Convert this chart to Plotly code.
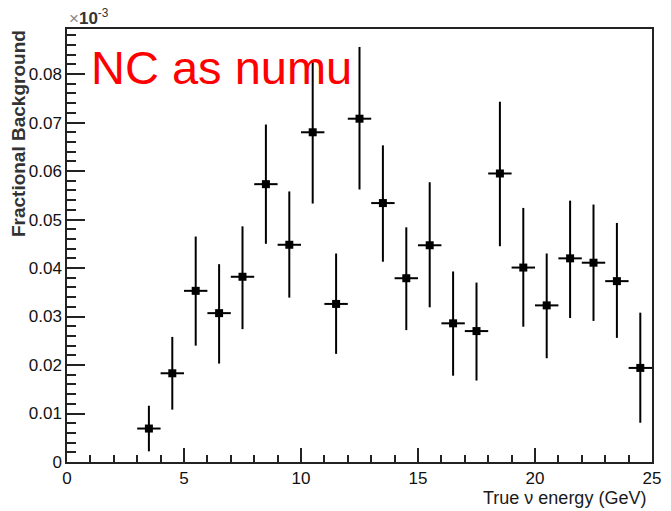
import plotly.graph_objects as go

# Bin centres of true neutrino energy (GeV)
energy = [3.5, 4.5, 5.5, 6.5, 7.5, 8.5, 9.5, 10.5, 11.5, 12.5, 13.5,
          14.5, 15.5, 16.5, 17.5, 18.5, 19.5, 20.5, 21.5, 22.5, 23.5, 24.5]

# Fractional NC background and its upper/lower uncertainties
frac_bkg = [0.0069, 0.0183, 0.0353, 0.0307, 0.0382, 0.0573, 0.0448, 0.0680,
            0.0326, 0.0708, 0.0534, 0.0379, 0.0447, 0.0286, 0.0270, 0.0595,
            0.0401, 0.0323, 0.0420, 0.0411, 0.0373, 0.0194]
err_up = [0.0047, 0.0075, 0.0112, 0.0101, 0.0104, 0.0123, 0.0110, 0.0147,
          0.0104, 0.0148, 0.0119, 0.0105, 0.0130, 0.0107, 0.0100, 0.0148,
          0.0123, 0.0107, 0.0119, 0.0120, 0.0120, 0.0114]
err_down = [0.0047, 0.0075, 0.0113, 0.0104, 0.0108, 0.0123, 0.0109, 0.0147,
            0.0103, 0.0146, 0.0121, 0.0107, 0.0128, 0.0108, 0.0102, 0.0150,
            0.0122, 0.0109, 0.0123, 0.0120, 0.0117, 0.0113]
bin_half_width = 0.5

x_range = [0, 25]
y_range = [0, 0.0893]

font_family = "Liberation Sans, Arial, sans-serif"
tick_font = dict(family=font_family, size=17, color="#111111")
ink = "#222222"

fig = go.Figure()
fig.add_trace(go.Scatter(
    x=energy, y=frac_bkg, mode="markers",
    marker=dict(symbol="square", size=8, color="black"),
    error_y=dict(type="data", symmetric=False, array=err_up, arrayminus=err_down,
                 thickness=2, width=0, color="black"),
    error_x=dict(type="constant", value=bin_half_width, thickness=2, width=0, color="black"),
    showlegend=False, cliponaxis=False,
))

fig.update_layout(
    width=671, height=511,
    margin=dict(l=67, r=10, t=29, b=49),
    paper_bgcolor="white", plot_bgcolor="white",
    xaxis=dict(
        range=x_range, showgrid=False, zeroline=False,
        showline=True, linecolor=ink, linewidth=1.5, mirror=True,
        ticks="inside", ticklen=14, tickwidth=1.5, tickcolor=ink,
        dtick=5, tick0=0, tickfont=tick_font,
        minor=dict(ticks="inside", ticklen=7, tickwidth=1.5, tickcolor=ink, dtick=1, tick0=0),
    ),
    yaxis=dict(
        range=y_range, showgrid=False, zeroline=False,
        showline=True, linecolor=ink, linewidth=1.5, mirror=True,
        ticks="inside", ticklen=18, tickwidth=1.5, tickcolor=ink,
        dtick=0.01, tick0=0, tickformat=".2~f", tickfont=tick_font,
        minor=dict(ticks="inside", ticklen=9, tickwidth=1.5, tickcolor=ink, dtick=0.002, tick0=0),
    ),
)

# Axis titles aligned to the far end of each axis
fig.add_annotation(
    text="Fractional Background", textangle=-90, showarrow=False,
    xref="paper", yref="paper", x=-0.083, y=1.002, xanchor="center", yanchor="top",
    font=dict(family=font_family, size=19, color="#333333", weight="bold"),
)
fig.add_annotation(
    text="True \u03bd energy (GeV)", showarrow=False,
    xref="paper", yref="paper", x=0.993, y=-0.082, xanchor="right", yanchor="middle",
    font=dict(family=font_family, size=18, color="#1a1a1a"),
)
# Exponent marker above the y axis
fig.add_annotation(
    text="<span style='color:#888888'>\u00d7</span><b>10</b><sup>-3</sup>", showarrow=False,
    xref="paper", yref="paper", x=0.0, y=1.0, xanchor="left", yanchor="bottom", yshift=-1,
    font=dict(family=font_family, size=17, color="#333333"),
)
# Sample label
fig.add_annotation(
    text="NC as numu", showarrow=False,
    xref="paper", yref="paper", x=0.038, y=0.912, xanchor="left", yanchor="middle",
    font=dict(family=font_family, size=47, color="#ff0000"),
)

fig.write_html("out.html")
